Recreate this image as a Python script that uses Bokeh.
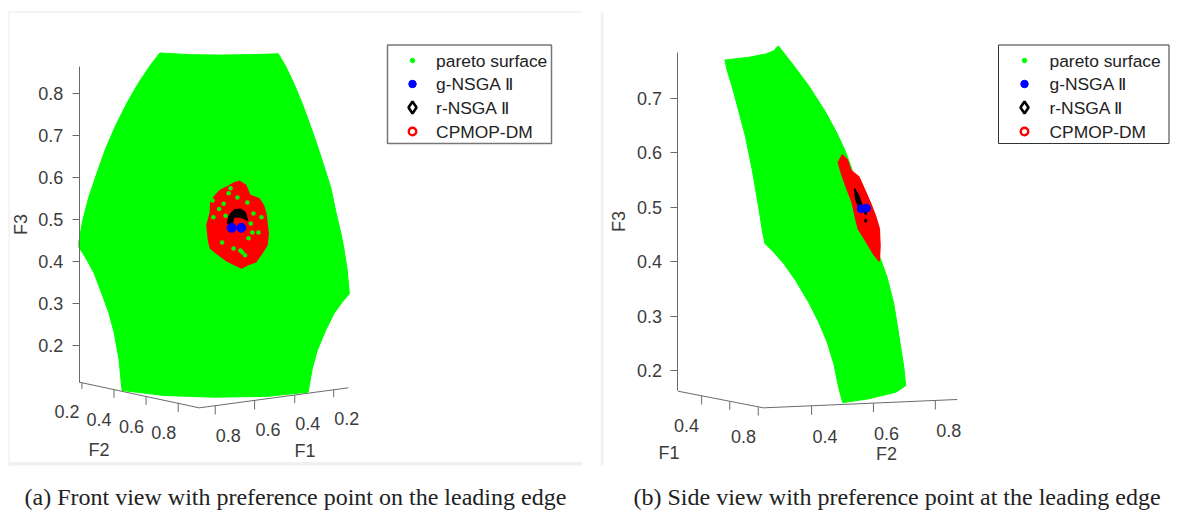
from bokeh.embed import file_html
from bokeh.resources import INLINE
from bokeh.layouts import row
from bokeh.plotting import figure
from bokeh.models import (Range1d, FixedTicker, Label, LabelSet, ColumnDataSource,
                          BoxAnnotation)
from bokeh.core.properties import value

# ---------- data, panel (a): view_x is the horizontal projected coordinate, F3 the vertical axis
a_surface_x = [417,497,571,654,727,746,768,790,811,829,846,864,877,892,898,907,913,894,872,851,829,816,805,
               699,560,429,318,310,297,283,262,244,222,205,205,215,231,253,275,301,332,362,393]
a_surface_f3 = [.896,.892,.891,.892,.894,.865,.823,.775,.723,.676,.628,.577,.521,.462,.434,.382,.323,.303,.275,.236,.188,.145,.089,
                .079,.077,.081,.093,.168,.232,.279,.331,.374,.410,.434,.446,.497,.553,.612,.668,.723,.779,.826,.868]
a_cpmop_x = [611,625,641,652,664,676,688,694,700,697,685,668,650,632,612,593,563,550,545,541,546,550,551,562,576,594]
a_cpmop_f3 = [.586,.590,.581,.557,.553,.549,.532,.513,.466,.440,.422,.400,.394,.385,.393,.402,.422,.432,.450,.486,.503,.517,.541,.556,.569,.577]
a_gaps_x = [584,602,557,589,646,628,659,649,555,675,610,633,597,662,572,620,655,640,683,580]
a_gaps_f3 = [.537,.574,.505,.509,.540,.426,.469,.455,.545,.469,.431,.421,.562,.514,.525,.552,.490,.415,.505,.445]
a_rnsga_x = [593,598,611,628,641,647,628,611,606]
a_rnsga_f3 = [.490,.509,.523,.525,.517,.497,.505,.505,.486]
a_cpmop_inner_x = [614,622,630]
a_cpmop_inner_f3 = [.499,.503,.499]
a_gnsga_x = [605,630]
a_gnsga_f3 = [.480,.480]

# ---------- data, panel (b)
b_surface_x = [336,400,446,468,480,518,562,608,639,662,680,720,751,774,792,805,819,824,797,724,654,
               643,630,612,589,562,527,495,464,444,437,427,410,392,373,356,342]
b_surface_f3 = [.770,.775,.781,.787,.796,.763,.723,.674,.635,.601,.567,.500,.414,.371,.322,.267,.206,.172,.160,.148,.141,
                .169,.212,.252,.289,.325,.365,.396,.420,.433,.457,.500,.567,.628,.677,.720,.751]
b_cpmop_x = [653,666,675,697,711,729,743,752,754,752,738,716,697,689,680,666,653,643]
b_cpmop_f3 = [.595,.586,.567,.555,.534,.506,.481,.460,.429,.402,.414,.439,.460,.481,.509,.534,.558,.582]
b_rnsga_x = [686,697,706,697,689]
b_rnsga_f3 = [.534,.521,.503,.500,.515]
b_rnsga_pts_x = [716,716]
b_rnsga_pts_f3 = [.475,.489]
b_gnsga_x = [704,718]
b_gnsga_f3 = [.497,.498]

f3_ticks_a = [0.2,0.3,0.4,0.5,0.6,0.7,0.8]
f3_ticks_b = [0.2,0.3,0.4,0.5,0.6,0.7]
a_f2_labels = ["0.2","0.4","0.6","0.8"]
a_f1_labels = ["0.8","0.6","0.4","0.2"]
b_f1_labels = ["0.4","0.8"]
b_f2_labels = ["0.4","0.6","0.8"]
legend_names = ["pareto surface","g-NSGA Ⅱ","r-NSGA Ⅱ","CPMOP-DM"]
caption_a = "(a) Front view with preference point on the leading edge"
caption_b = "(b) Side view with preference point at the leading edge"

GREEN, RED, BLUE = "#00ff00", "#ff0000", "#0000ff"
INK = "#3c3c3c"
AXC = "#6a6a6a"
SANS = "Liberation Sans"
H = 513
TICK_PX = "18px"


def make_panel(width, page_left, axis_x, kx, f3_at, f3_scale, ticks, bounds):
    to_x = lambda page_x: (page_x - page_left) * kx
    to_y = lambda page_y: 0.2 + (f3_at - page_y) / f3_scale
    p = figure(width=width, height=H, output_backend="svg", toolbar_location=None,
               x_range=Range1d(0, width * kx),
               y_range=Range1d(to_y(H), to_y(0)),
               min_border_left=0, min_border_right=0,
               min_border_top=0, min_border_bottom=0,
               x_axis_location=None, outline_line_color=None, tools="")
    p.grid.visible = False
    ax = p.yaxis[0]
    ax.fixed_location = axis_x
    ax.ticker = FixedTicker(ticks=ticks)
    ax.bounds = bounds
    ax.axis_line_color = AXC
    ax.major_tick_line_color = AXC
    ax.major_tick_out = 7
    ax.major_tick_in = 0
    ax.minor_tick_line_color = None
    ax.major_label_text_font = SANS
    ax.major_label_text_font_size = TICK_PX
    ax.major_label_text_color = INK
    ax.major_label_standoff = 9
    ax.axis_label = "F3"
    ax.axis_label_text_font = SANS
    ax.axis_label_text_font_size = TICK_PX
    ax.axis_label_text_font_style = "normal"
    ax.axis_label_text_color = INK
    ax.axis_label_standoff = 4
    return p, to_x, to_y


def add_floor(p, zy, lines, tick_x, tick_y0, tick_y1, labels, names):
    for xs, ys in lines:
        p.line(xs, [zy(v) for v in ys], line_color=AXC, line_width=1)
    p.segment(tick_x, [zy(v) for v in tick_y0], tick_x, [zy(v) for v in tick_y1], line_color=AXC, line_width=1)
    for lx, ly, lt in (labels, names):
        p.add_layout(LabelSet(x="x", y="y", text="t", source=ColumnDataSource(dict(x=lx, y=[zy(v) for v in ly], t=lt)),
                              text_font=value(SANS), text_font_size=TICK_PX, text_color=INK,
                              text_align="center", text_baseline="middle"))


def add_legend(p, to_x, to_y, box, marker_x, text_x, border, border_w):
    l, r, t, b = box
    p.quad(left=to_x(l), right=to_x(r), top=to_y(t), bottom=to_y(b), fill_color="white",
           line_color=border, line_width=border_w)
    rows = [60, 83.5, 107, 131]
    mx, tx = to_x(marker_x), to_x(text_x)
    p.scatter([mx], [to_y(rows[0])], size=4.5, marker="circle", fill_color=GREEN, line_color=GREEN)
    p.scatter([mx], [to_y(rows[1])], size=7.5, marker="circle", fill_color=BLUE, line_color=BLUE)
    p.scatter([mx], [to_y(rows[2])], size=12, marker="diamond", fill_color="white", line_color="black", line_width=2.6)
    p.scatter([mx], [to_y(rows[3])], size=7.5, marker="circle", fill_color="white", line_color=RED, line_width=2.4)
    for yy, name in zip(rows, legend_names):
        p.add_layout(Label(x=tx, y=to_y(yy), text=name, text_font=SANS, text_font_size="17.4px",
                           text_color="#222222", text_baseline="middle", text_align="left"))


def add_caption(p, to_x, to_y, text, page_x):
    p.add_layout(Label(x=to_x(page_x), y=to_y(496.5), text=text, text_font="Liberation Serif",
                       text_font_size="24px", text_color="#222222", text_baseline="middle", text_align="left"))


def band(p, left, right, top, bottom, color):
    # page furniture in pixels: top and bottom measured from the page's top
    p.add_layout(BoxAnnotation(left=left, right=right, top=H - top, bottom=H - bottom, left_units="screen", right_units="screen",
                               top_units="screen", bottom_units="screen", fill_color=color, fill_alpha=1, line_color=None))


# ---------- panel (a)
pa, ax_a, ay_a = make_panel(600, 0, 206, 2.617, 345, 420.3, f3_ticks_a, (0.112, 0.865))
za = lambda Y: 0.2 + (1035 - Y) / 1261
band(pa, 8, 582, 11, 12.2, "#eeeeee")
band(pa, 8, 9.2, 11, 465, "#eeeeee")
band(pa, 8, 582, 461.5, 465, "#f0f0f2")
add_floor(pa, za,
          [([206, 520], [1145, 1222]), ([520, 910], [1222, 1162])],
          [213, 297, 381, 465, 562, 665, 770, 872],
          [1147, 1167, 1187, 1207, 1215, 1199, 1183, 1168],
          [1165, 1192, 1213, 1235, 1242, 1227, 1208, 1190],
          ([174, 258, 343, 427, 596, 700, 804, 906], [1233, 1257, 1277, 1297, 1305, 1288, 1270, 1254],
           a_f2_labels + a_f1_labels),
          ([258, 797], [1350, 1352], ["F2", "F1"]))
pa.patch(a_surface_x, a_surface_f3, fill_color=GREEN, line_color=GREEN, line_width=1)
pa.patch(a_cpmop_x, a_cpmop_f3, fill_color=RED, line_color=RED, line_width=2, line_join="round")
pa.scatter(a_gaps_x, a_gaps_f3, size=4.5, marker="circle", fill_color=GREEN, line_color=None)
pa.patch(a_rnsga_x, a_rnsga_f3, fill_color="black", line_color="black", line_width=1)
pa.line(a_cpmop_inner_x, a_cpmop_inner_f3, line_color=RED, line_width=1.5)
pa.scatter(a_gnsga_x, a_gnsga_f3, size=9, marker="circle", fill_color=BLUE, line_color=BLUE)
add_legend(pa, ax_a, ay_a, (387, 551, 44.5, 143), 412, 435.6, "#777777", 1.5)
add_caption(pa, ax_a, ay_a, caption_a, 24)

# ---------- panel (b)
pb, ax_b, ay_b = make_panel(584, 600, 209, 2.7, 370, 544.7, f3_ticks_b, (0.163, 0.784))
zb = lambda Y: 0.2 + (1110 - Y) / 1634
band(pb, 0, 3, 11, 465, "#f1f1f8")
add_floor(pb, zb,
          [([209, 440], [1172, 1222]), ([440, 963], [1222, 1197])],
          [273, 349, 426, 570, 737, 904],
          [1187, 1204, 1220, 1216, 1208, 1200],
          [1212, 1228, 1245, 1243, 1235, 1227],
          ([232, 386, 606, 772, 940], [1275, 1308, 1308, 1300, 1290], b_f1_labels + b_f2_labels),
          ([185, 772], [1357, 1360], ["F1", "F2"]))
pb.patch(b_surface_x, b_surface_f3, fill_color=GREEN, line_color=GREEN, line_width=1)
pb.patch(b_cpmop_x, b_cpmop_f3, fill_color=RED, line_color=RED, line_width=2, line_join="round")
pb.patch(b_rnsga_x, b_rnsga_f3, fill_color="black", line_color="black", line_width=1.5)
pb.scatter(b_rnsga_pts_x, b_rnsga_pts_f3, size=4, marker="diamond", fill_color="black", line_color="black")
pb.scatter(b_gnsga_x, b_gnsga_f3, size=8, marker="circle", fill_color=BLUE, line_color=BLUE)
add_legend(pb, ax_b, ay_b, (998, 1168.5, 44.5, 143), 1024, 1049, "#333333", 1)
add_caption(pb, ax_b, ay_b, caption_b, 633)

open("out.html", "w").write(file_html(row(pa, pb, spacing=0), INLINE))
